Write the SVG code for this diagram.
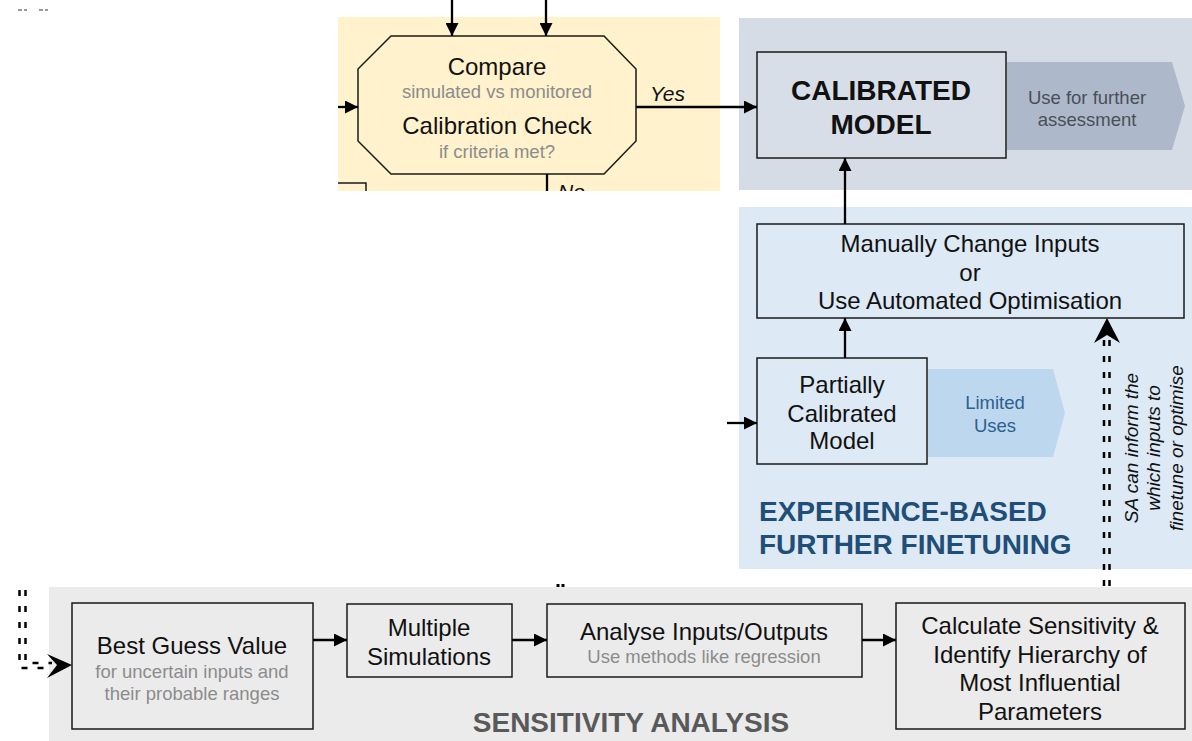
<svg xmlns="http://www.w3.org/2000/svg" width="1192" height="741" viewBox="0 0 1192 741">
<style>
text{font-family:"Liberation Sans",Arial,sans-serif;}
.box{stroke:#1a1a1a;stroke-width:1.5;}
.t20{font-size:24px;fill:#111;text-anchor:middle;}
.g15{font-size:18.5px;fill:#8c8c8c;text-anchor:middle;}
.ln{stroke:#000;stroke-width:2.3;fill:none;}
.dash{stroke:#000;stroke-width:2.5;fill:none;stroke-dasharray:6 10;}
.it{font-style:italic;font-size:21px;fill:#111;}
</style>
<defs>
<marker id="ah" viewBox="0 0 10 10" refX="10" refY="5" markerWidth="13" markerHeight="13" markerUnits="userSpaceOnUse" orient="auto">
<path d="M0,0 L10,5 L0,10 z" fill="#000"/>
</marker>
<clipPath id="clipTop"><rect x="0" y="0" width="1192" height="191"/></clipPath>
</defs>

<g id="panels">
<rect x="338" y="17" width="382" height="174" fill="#fff2cc"/>
<rect x="739" y="18" width="453" height="172" fill="#d6dce5"/>
<rect x="739" y="207" width="453" height="362" fill="#dde9f5"/>
<rect x="49" y="587" width="1143" height="154" fill="#ebebeb"/>
</g>

<g id="residual" stroke="#777" stroke-width="1.5">
<path d="M18,10 H22 M24,10 H27 M39,10 H43 M45,10 H48"/>
<rect x="556.5" y="584" width="3" height="3" fill="#000" stroke="none"/>
<rect x="561.5" y="584" width="3" height="3" fill="#000" stroke="none"/>
</g>

<g id="fragment">
<path d="M338,183 H366 V191" class="box" fill="none"/>
</g>

<g id="compare">
<path d="M391,36 H604 L636,69 V141 L604,174 H391 L358,141 V69 Z" fill="#fff2cc" class="box"/>
<text x="497" y="75" class="t20">Compare</text>
<text x="497" y="98" class="g15">simulated vs monitored</text>
<text x="497" y="134" class="t20">Calibration Check</text>
<text x="497" y="158" class="g15">if criteria met?</text>
</g>

<g id="calibrated">
<rect x="757" y="52" width="249" height="106" fill="#d8dee7" class="box"/>
<text x="881" y="100" font-size="28" font-weight="bold" text-anchor="middle" fill="#111">CALIBRATED</text>
<text x="881" y="134" font-size="28" font-weight="bold" text-anchor="middle" fill="#111">MODEL</text>
</g>
<g id="furtherUse">
<path d="M1007,62 H1172 L1185,106 L1172,150 H1007 Z" fill="#adb9cb"/>
<text x="1087" y="104" font-size="18.5" fill="#4a4f57" text-anchor="middle">Use for further</text>
<text x="1087" y="126" font-size="18.5" fill="#4a4f57" text-anchor="middle">assessment</text>
</g>

<g id="manual">
<rect x="757" y="224" width="427" height="94" fill="#dde9f5" class="box"/>
<text x="970" y="252" class="t20">Manually Change Inputs</text>
<text x="970" y="281" class="t20">or</text>
<text x="970" y="309" class="t20">Use Automated Optimisation</text>
</g>

<g id="partial">
<rect x="757" y="358" width="170" height="106" fill="#dde9f5" class="box"/>
<text x="842" y="393" class="t20">Partially</text>
<text x="842" y="422" class="t20">Calibrated</text>
<text x="842" y="449" class="t20">Model</text>
</g>
<g id="limited">
<path d="M928,369 H1053 L1065,413 L1053,457 H928 Z" fill="#bdd7ee"/>
<text x="995" y="409" font-size="18.5" fill="#2e5f91" text-anchor="middle">Limited</text>
<text x="995" y="432" font-size="18.5" fill="#2e5f91" text-anchor="middle">Uses</text>
</g>

<g id="expLabel">
<text x="759" y="521" font-size="28" font-weight="bold" fill="#1f4e79">EXPERIENCE-BASED</text>
<text x="759" y="554" font-size="28" font-weight="bold" fill="#1f4e79">FURTHER FINETUNING</text>
</g>

<g id="saNote">
<text transform="translate(1138,448) rotate(-90)" font-size="19" font-style="italic" fill="#111" text-anchor="middle">SA can inform the</text>
<text transform="translate(1160,448) rotate(-90)" font-size="19" font-style="italic" fill="#111" text-anchor="middle">which inputs to</text>
<text transform="translate(1183,448) rotate(-90)" font-size="19" font-style="italic" fill="#111" text-anchor="middle">finetune or optimise</text>
</g>

<g id="bestGuess">
<rect x="72" y="603" width="241" height="126" fill="#ebebeb" class="box"/>
<text x="192" y="654" class="t20">Best Guess Value</text>
<text x="192" y="678" class="g15">for uncertain inputs and</text>
<text x="192" y="700" class="g15">their probable ranges</text>
</g>
<g id="multiple">
<rect x="347" y="604" width="165" height="73" fill="#ebebeb" class="box"/>
<text x="429" y="636" class="t20">Multiple</text>
<text x="429" y="665" class="t20">Simulations</text>
</g>
<g id="analyse">
<rect x="547" y="604" width="315" height="73" fill="#ebebeb" class="box"/>
<text x="704" y="640" class="t20">Analyse Inputs/Outputs</text>
<text x="704" y="663" class="g15">Use methods like regression</text>
</g>
<g id="calculate">
<rect x="896" y="603" width="289" height="126" fill="#ebebeb" class="box"/>
<text x="1040" y="634" class="t20">Calculate Sensitivity &amp;</text>
<text x="1040" y="663" class="t20">Identify Hierarchy of</text>
<text x="1040" y="691" class="t20">Most Influential</text>
<text x="1040" y="720" class="t20">Parameters</text>
</g>
<g id="saLabel">
<text x="631" y="732" font-size="28" font-weight="bold" fill="#595959" text-anchor="middle">SENSITIVITY ANALYSIS</text>
</g>

<g id="connectors">
<line x1="452" y1="0" x2="452" y2="36" class="ln" marker-end="url(#ah)"/>
<line x1="546" y1="0" x2="546" y2="36" class="ln" marker-end="url(#ah)"/>
<line x1="338" y1="107" x2="358" y2="107" class="ln" marker-end="url(#ah)"/>
<line x1="636" y1="107" x2="757" y2="107" class="ln" marker-end="url(#ah)"/>
<text x="650" y="101" class="it">Yes</text>
<g clip-path="url(#clipTop)">
<line x1="547" y1="174" x2="547" y2="200" class="ln"/>
<text x="558" y="199" class="it">No</text>
</g>
<line x1="845" y1="224" x2="845" y2="158" class="ln" marker-end="url(#ah)"/>
<line x1="845" y1="358" x2="845" y2="318" class="ln" marker-end="url(#ah)"/>
<line x1="727" y1="423" x2="757" y2="423" class="ln" marker-end="url(#ah)"/>
<line x1="313" y1="640" x2="347" y2="640" class="ln" marker-end="url(#ah)"/>
<line x1="512" y1="640" x2="547" y2="640" class="ln" marker-end="url(#ah)"/>
<line x1="862" y1="640" x2="896" y2="640" class="ln" marker-end="url(#ah)"/>
<line x1="1104" y1="586" x2="1104" y2="334" class="dash"/>
<line x1="1109.5" y1="586" x2="1109.5" y2="334" class="dash"/>
<path d="M1107,318 L1120,343 L1107,335 L1094,343 Z" fill="#000"/>
<path d="M19.5,590 V668 H52" class="dash"/>
<path d="M25.5,590 V663 H52" class="dash"/>
<path d="M72,665 L47,654 L57,665 L47,678 Z" fill="#000"/>
</g>
</svg>
